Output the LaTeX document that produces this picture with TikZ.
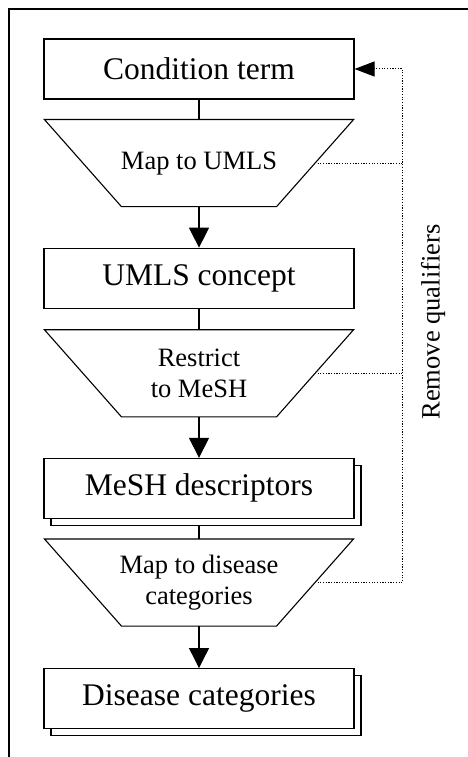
\documentclass[tikz,border=0pt]{standalone}
\usepackage{fontspec}
\setmainfont{Liberation Serif}
\usetikzlibrary{arrows.meta, positioning, shadows, backgrounds}

\begin{document}
\begin{tikzpicture}[x=1pt, y=1pt]
\tikzstyle{term} = [rectangle, draw, fill=white, line width=1.1pt, minimum width=310pt, minimum height=60pt, font=\fontsize{31.5}{36}\selectfont]
\tikzstyle{stack} = [term, copy shadow={shadow xshift=7pt, shadow yshift=-7pt}]
\tikzstyle{map} = [rectangle, line width=1.1pt, minimum width=308pt, minimum height=86pt, align=center, font=\fontsize{26.5}{30.5}\selectfont,
  append after command={\pgfextra{\draw[line width=1.1pt, line join=miter] (\tikzlastnode.north west) -- (\tikzlastnode.north east)
    -- ([xshift=-77pt]\tikzlastnode.south east) -- ([xshift=77pt]\tikzlastnode.south west) -- cycle;}}]
\tikzstyle{flow} = [line width=1.1pt, -{Triangle[length=20pt, width=20pt]}]
\tikzstyle{link} = [line width=1.1pt]
\tikzstyle{fb} = [line width=1pt, dash pattern=on 1.2pt off 1.5pt]
\tikzstyle{note} = [font=\fontsize{26.5}{30.5}\selectfont]

\useasboundingbox (0,0) rectangle (468,-757);
\draw[line width=1.5pt] (468,-9) -- (9,-9) -- (9,-757);

\node (cond) [term] at (199,-69) {Condition term};
\node (m1) [map, below=20pt of cond] {Map to UMLS};
\node (umls) [term, below=41pt of m1] {UMLS concept};
\node (m2) [map, below=21pt of umls] {Restrict\\to MeSH};
\node (mesh) [stack, below=41pt of m2] {MeSH descriptors};
\node (m3) [map, below=20pt of mesh] {Map to disease\\categories};
\node (dis) [stack, below=42pt of m3] {Disease categories};

\node (rq) [note, rotate=90] at (433,-322) {Remove qualifiers};

% feedback loop
\coordinate [right=48pt of cond.east] (fbtop);
\draw[fb] ([xshift=-36pt]m1.east) -- (m1.east -| fbtop);
\draw[fb] ([xshift=-36pt]m2.east) -- (m2.east -| fbtop);
\draw[fb, -{Triangle[length=20pt, width=15pt]}] ([xshift=-36pt]m3.east) -| (fbtop) -- (cond.east);

\begin{scope}[on background layer]
\draw[link] (cond) -- (m1);
\draw[flow] (m1) -- (umls);
\draw[link] (umls) -- (m2);
\draw[flow] (m2) -- (mesh);
\draw[link] (mesh) -- (m3);
\draw[flow] (m3) -- (dis);
\end{scope}

\end{tikzpicture}
\end{document}
